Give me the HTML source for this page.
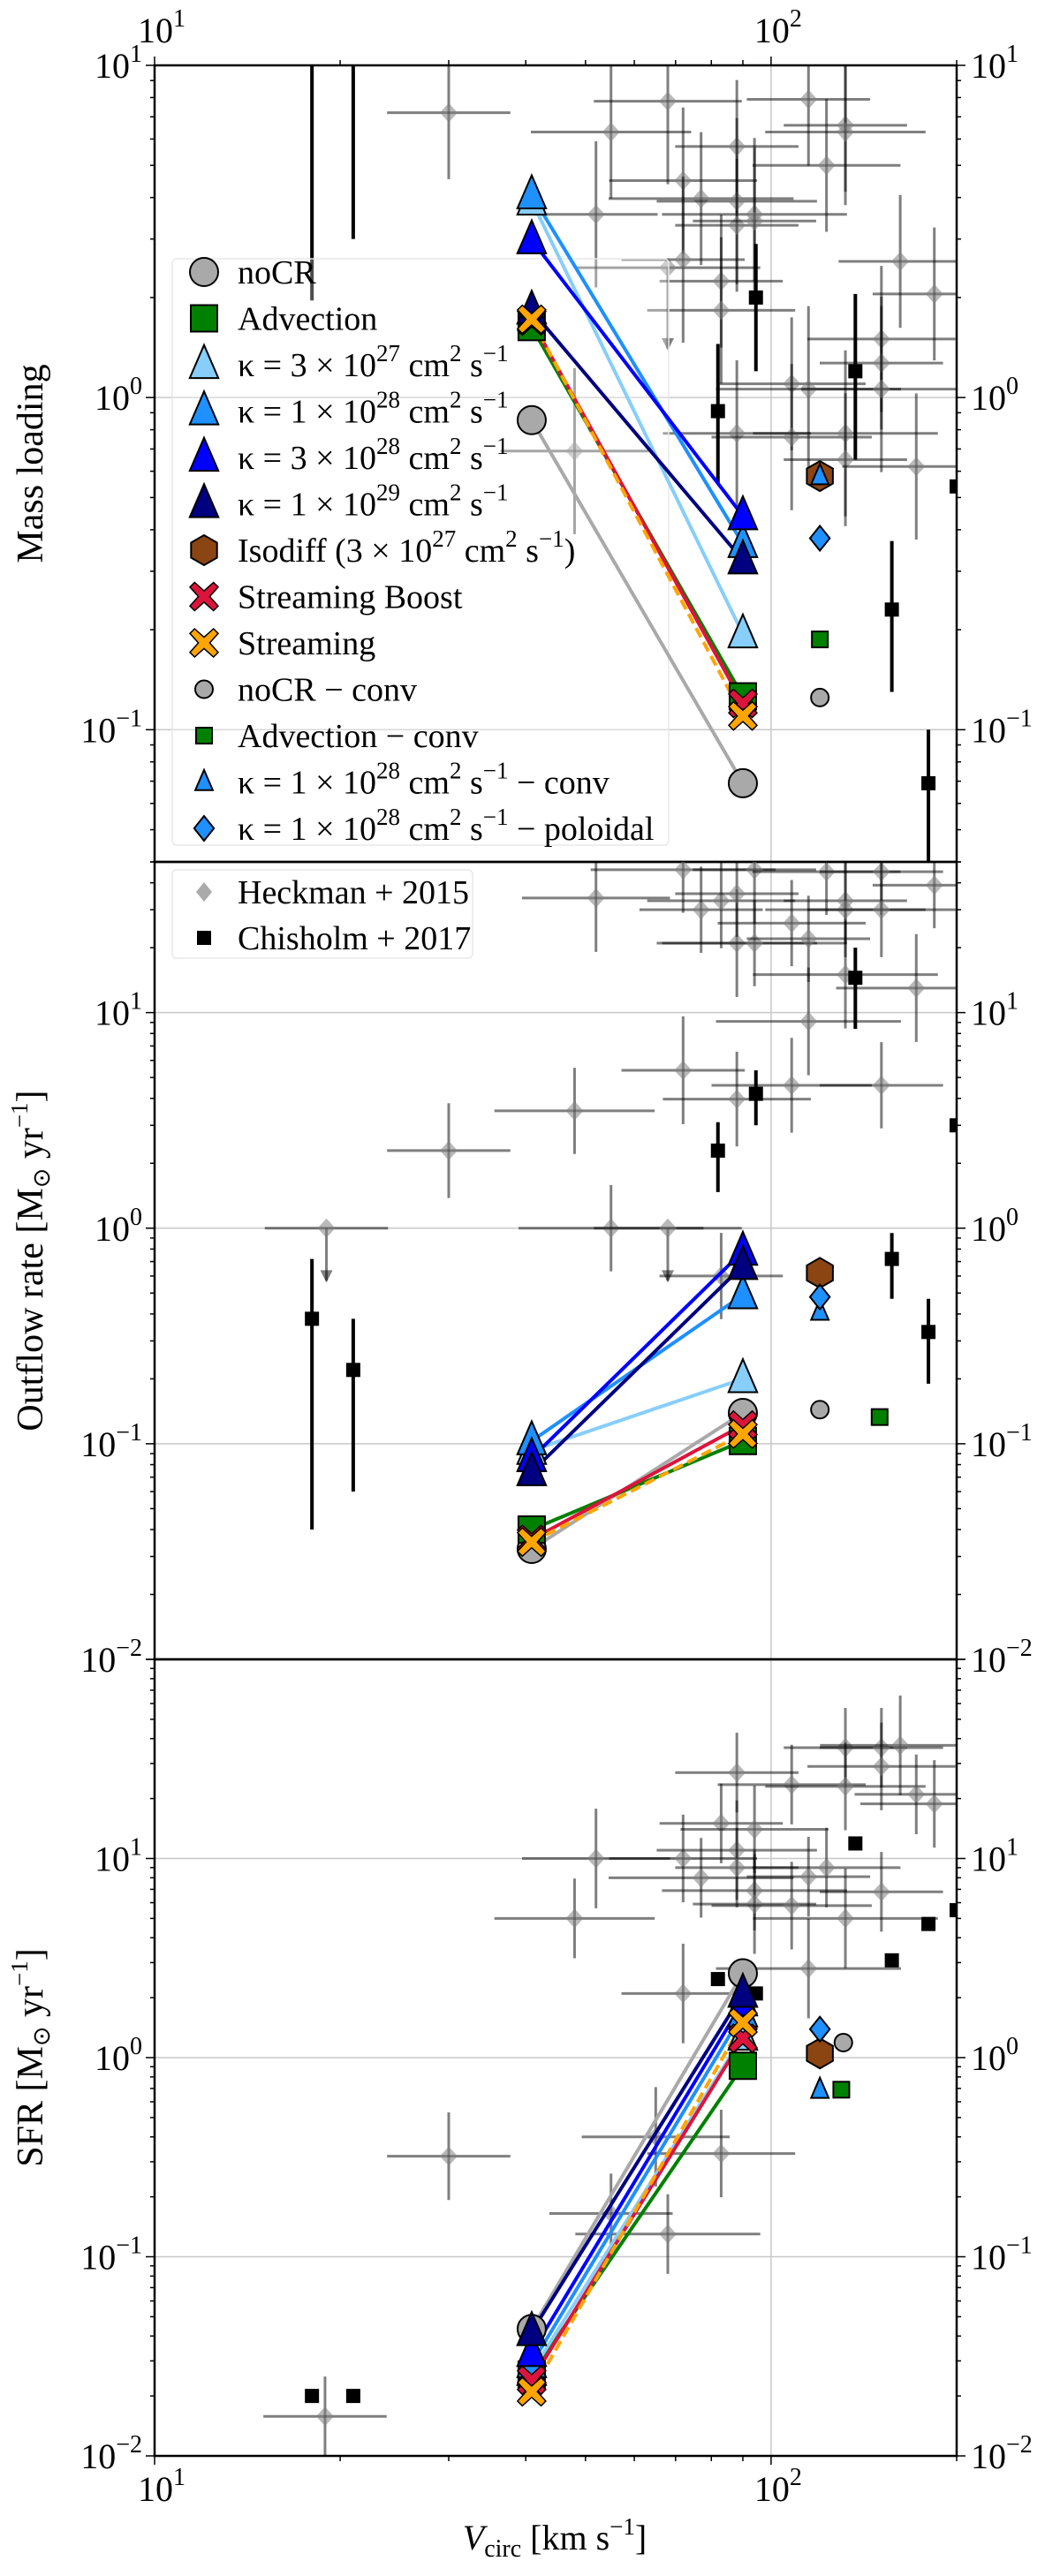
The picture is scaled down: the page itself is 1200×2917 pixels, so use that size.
<!DOCTYPE html>
<html><head><meta charset="utf-8"><style>
html,body{margin:0;padding:0;background:#fff}
svg{display:block;font-family:"Liberation Serif",serif}
</style></head><body>
<svg id="fig" width="1200" height="2917" viewBox="0 0 1200 2917" xmlns="http://www.w3.org/2000/svg"></svg>
<script>
// ---------- data ----------
const simX = [40.9, 90];
const noCR_ml = [0.855, 0.069], noCR_or = [0.0325, 0.139], noCR_sfr = [0.0434, 2.65];
const adv_ml = [1.63, 0.126], adv_or = [0.040, 0.103], adv_sfr = [0.0256, 0.91];
const k3e27_ml = [3.9, 0.194], k3e27_or = [0.093, 0.20], k3e27_sfr = [0.0265, 1.28];
const k1e28_ml = [4.07, 0.363], k1e28_or = [0.103, 0.49], k1e28_sfr = [0.029, 1.67];
const k3e28_ml = [2.98, 0.44], k3e28_or = [0.086, 0.78], k3e28_sfr = [0.033, 1.9];
const k1e29_ml = [1.83, 0.324], k1e29_or = [0.074, 0.67], k1e29_sfr = [0.042, 2.1];
const boost_ml = [1.7, 0.12], boost_or = [0.036, 0.122], boost_sfr = [0.024, 1.25];
const stream_ml = [1.72, 0.110], stream_or = [0.035, 0.111], stream_sfr = [0.021, 1.5];
const isoX = [120, 120, 120], iso_y = [0.58, 0.62, 1.05];
const noCRconvX = [120, 120, 131], noCRconv_y = [0.125, 0.144, 1.19];
const advconvX = [120, 150, 130], advconv_y = [0.187, 0.133, 0.69];
const kconvX = [120, 120, 120], kconv_y = [0.58, 0.41, 0.69];
const polX = [120, 120, 120], pol_y = [0.377, 0.48, 1.39];

const H1x = [30,52,55,68,68,72,72,77,83,83,88,88,88,88,94,94,108,108,115,115,123,132,132,132,132,151,151,151,162,172,184,48];
const H1y = [7.2,3.56,6.3,7.8,2.46,4.5,2.6,3.97,2.24,1.83,5.7,3.9,3.3,0.78,3.56,3.4,1.1,0.76,7.9,1.06,5.0,6.6,6.3,0.78,0.65,1.5,1.27,1.06,2.57,0.62,2.05,0.69];
const H1lim = [4];
const H2x = [19,30,48,52,55,68,72,72,77,83,83,88,88,88,94,94,108,108,115,115,123,132,132,132,151,151,151,172,184];
const H2y = [1.0,2.29,3.5,34,1.0,1.0,5.4,46,30,33,0.6,21,35.6,3.97,21,46,26,4.6,22,9.1,45,33,30,15,45,30,4.6,13,39];
const H2lim = [0,5];
const H3x = [18.9,30,48,52,68,72,72,77,83,83,88,88,88,94,94,94,108,108,115,115,123,132,132,132,151,151,151,162,172,184,55,65];
const H3y = [0.0158,0.32,5.0,10,0.13,10,2.1,8.0,15,0.33,27,11,9,14,6.9,5.9,23.5,5.8,8.1,2.8,9.0,36,23,5.0,36,29,6.8,37,21,18.8,0.165,0.4];
const H3lim = [];
const HxErr = [0.1,0.1,0.13,0.12,0.15,0.12,0.1,0.15,0.1,0.12,0.1,0.13,0.1,0.12,0.15,0.1,0.12,0.13,0.1,0.15,0.12,0.1,0.13,0.15,0.1,0.12,0.1,0.13,0.1,0.12,0.1,0.12];
const HyErr = [0.2,0.22,0.2,0.25,0.2,0.22,0.25,0.2,0.2,0.22,0.2,0.25,0.2,0.22,0.2,0.25,0.2,0.22,0.2,0.25,0.2,0.2,0.22,0.25,0.2,0.22,0.2,0.25,0.2,0.22,0.2,0.25];

const Cx = [18,21,82,94.5,137,157,180,200];
const C1y = [20,15,0.91,2.0,1.2,0.23,0.069,0.54];
const C1lo = [1.96,3.0,0.55,1.2,0.65,0.13,0.03,0.54];
const C1hi = [30,30,1.45,2.9,2.05,0.37,0.1,0.54];
const C2y = [0.38,0.22,2.29,4.2,14.5,0.72,0.33,3.0];
const C2lo = [0.04,0.06,1.47,3.0,8.4,0.47,0.19,3.0];
const C2hi = [0.72,0.38,3.1,5.4,20,0.95,0.47,3.0];
const C3y = [0.02,0.02,2.48,2.1,11.9,3.08,4.69,5.5];

const yTicks1 = [-1,0,1], yTicks2 = [-2,-1,0,1], yTicks3 = [-2,-1,0,1];
const xTicks = [1,2];

// ---------- layout ----------
const L=175,R=1083;
const panels=[{top:74,bot:976,lmin:Math.log10(0.04),lmax:1},{top:976,bot:1879,lmin:-2,lmax:Math.log10(50)},{top:1879,bot:2781,lmin:-2,lmax:2}];
const xs=v=>L+(Math.log10(v)-1)*(R-L)/(Math.log10(200)-1);
const ys=(p,v)=>{const P=panels[p];return P.bot-(Math.log10(v)-P.lmin)*(P.bot-P.top)/(P.lmax-P.lmin);};
const svg=document.getElementById('fig');
const NS='http://www.w3.org/2000/svg';
function mk(tag,attrs,parent){const e=document.createElementNS(NS,tag);for(const k in attrs)e.setAttribute(k,attrs[k]);(parent||svg).appendChild(e);return e;}

const defs=mk('defs',{});
panels.forEach((P,i)=>{const c=mk('clipPath',{id:'clip'+i},defs);mk('rect',{x:L,y:P.top,width:R-L,height:P.bot-P.top},c);});

function markerShape(g,type,cx,cy,s,fill,name){
  let e;
  if(type==='o'){e=mk('circle',{cx:cx,cy:cy,r:s/2,fill:fill,stroke:'#000','stroke-width':2},g);}
  else if(type==='s'){e=mk('rect',{x:cx-s/2,y:cy-s/2,width:s,height:s,fill:fill,stroke:'#000','stroke-width':2},g);}
  else if(type==='^'){const h=s*1.0,w=s*0.9;e=mk('polygon',{points:`${cx},${cy-h*0.62} ${cx+w/2},${cy+h*0.42} ${cx-w/2},${cy+h*0.42}`,fill:fill,stroke:'#000','stroke-width':2},g);}
  else if(type==='h'){const r=s/2;let pts=[];for(let k=0;k<6;k++){const a=Math.PI/2+k*Math.PI/3;pts.push((cx+r*Math.cos(a)).toFixed(1)+','+(cy-r*Math.sin(a)).toFixed(1));}e=mk('polygon',{points:pts.join(' '),fill:fill,stroke:'#000','stroke-width':2},g);}
  else if(type==='D'){const r=s/2;e=mk('polygon',{points:`${cx},${cy-r} ${cx+r*0.8},${cy} ${cx},${cy+r} ${cx-r*0.8},${cy}`,fill:fill,stroke:'#000','stroke-width':2},g);}
  else if(type==='X'){const a=s/2,b=s/6;const p=[[-a+b,-a],[0,-b*1.2],[a-b,-a],[a,-a+b],[b*1.2,0],[a,a-b],[a-b,a],[0,b*1.2],[-a+b,a],[-a,a-b],[-b*1.2,0],[-a,-a+b]];
    e=mk('polygon',{points:p.map(q=>(cx+q[0]).toFixed(1)+','+(cy+q[1]).toFixed(1)).join(' '),fill:fill,stroke:'#000','stroke-width':1.5},g);}
  
  
  return e;
}

// ---------- grid, axes ----------
panels.forEach((P,i)=>{
  const g=mk('g',{});
  
  
  const yt=[yTicks1,yTicks2,yTicks3][i];
  yt.forEach(t=>{const y=ys(i,Math.pow(10,t));mk('line',{x1:L,x2:R,y1:y,y2:y,stroke:'#c8c8c8','stroke-width':1.5},g);});
  mk('line',{x1:xs(100),x2:xs(100),y1:P.top,y2:P.bot,stroke:'#c8c8c8','stroke-width':1.5},g);
  for(let d=Math.floor(P.lmin);d<=Math.ceil(P.lmax);d++){for(let m=1;m<10;m++){const v=m*Math.pow(10,d);const lv=Math.log10(v);if(lv<P.lmin-1e-6||lv>P.lmax+1e-6)continue;const y=ys(i,v);const len=(m===1)?10:5;
    mk('line',{x1:L-len,x2:L,y1:y,y2:y,stroke:'#000','stroke-width':1.5},g);mk('line',{x1:R,x2:R+len,y1:y,y2:y,stroke:'#000','stroke-width':1.5},g);}}
  yt.forEach(t=>{const y=ys(i,Math.pow(10,t));
    const lt=mk('text',{x:L-14,y:y+14,'font-size':40,'text-anchor':'end'},g);
    lt.innerHTML='10<tspan font-size="28" dy="-18">'+(t<0?'\u2212'+(-t):t)+'</tspan>';
    const rt=mk('text',{x:R+16,y:y+14,'font-size':40,'text-anchor':'start'},g);
    rt.innerHTML='10<tspan font-size="28" dy="-18">'+(t<0?'\u2212'+(-t):t)+'</tspan>';
  });
  mk('rect',{x:L,y:P.top,width:R-L,height:P.bot-P.top,fill:'none',stroke:'#000','stroke-width':2.5},g);
});
(function(){
  const g=mk('g',{});
  for(let d=1;d<=2;d++)for(let m=1;m<10;m++){const v=m*Math.pow(10,d);if(v>200)continue;const x=xs(v);const len=m===1?10:6;
    mk('line',{x1:x,x2:x,y1:panels[0].top-len,y2:panels[0].top,stroke:'#000','stroke-width':1.5},g);
    mk('line',{x1:x,x2:x,y1:panels[2].bot,y2:panels[2].bot+len,stroke:'#000','stroke-width':1.5},g);}
  xTicks.forEach(t=>{const x=xs(Math.pow(10,t));
    const a=mk('text',{x:x+8,y:2832,'font-size':40,'text-anchor':'middle'},g);
    a.innerHTML='10<tspan font-size="28" dy="-18">'+t+'</tspan>';
    const b=mk('text',{x:x+8,y:48,'font-size':40,'text-anchor':'middle'},g);
    b.innerHTML='10<tspan font-size="28" dy="-18">'+t+'</tspan>';
  });
  const xl=mk('text',{x:628,y:2887,'font-size':40,'text-anchor':'middle'},g);
  xl.innerHTML='<tspan font-style="italic">V</tspan><tspan font-size="28" dy="8">circ</tspan><tspan dy="-8"> [km s</tspan><tspan font-size="27" dy="-17">\u22121</tspan><tspan dy="17">]</tspan>';
})();
[['Mass loading','y-axis-title-mass-loading'],['Outflow rate [M<tspan font-size="27" dy="8">\u2299</tspan><tspan dy="-8"> yr</tspan><tspan font-size="27" dy="-17">\u22121</tspan><tspan dy="17">]</tspan>','y-axis-title-outflow'],['SFR [M<tspan font-size="27" dy="8">\u2299</tspan><tspan dy="-8"> yr</tspan><tspan font-size="27" dy="-17">\u22121</tspan><tspan dy="17">]</tspan>','y-axis-title-sfr']].forEach((t,i)=>{
  const P=panels[i];const cy=(P.top+P.bot)/2;
  const e=mk('text',{x:0,y:0,'font-size':42,'text-anchor':'middle',transform:`translate(48,${cy}) rotate(-90)`});
  e.innerHTML=t[0];
});

// ---------- observations ----------
function heckman(p,X,Y,lims){
  const g=mk('g',{'clip-path':`url(#clip${p})`});
  X.forEach((xv,k)=>{const cx=xs(xv),cy=ys(p,Y[k]);const dx=HxErr[k%HxErr.length],dy=HyErr[k%HyErr.length];
    const isLim=lims.indexOf(k)>=0;
    mk('line',{x1:xs(xv*Math.pow(10,-dx)),x2:xs(xv*Math.pow(10,dx)),y1:cy,y2:cy,stroke:'rgba(0,0,0,0.5)','stroke-width':3},g);
    if(isLim){const y2=ys(p,Y[k]*0.57);mk('line',{x1:cx,x2:cx,y1:cy,y2:y2,stroke:'rgba(0,0,0,0.5)','stroke-width':3},g);
      mk('polygon',{points:`${cx-7},${y2-12} ${cx+7},${y2-12} ${cx},${y2+2}`,fill:'rgba(0,0,0,0.5)'},g);}
    else mk('line',{x1:cx,x2:cx,y1:ys(p,Y[k]*Math.pow(10,dy)),y2:ys(p,Y[k]*Math.pow(10,-dy)),stroke:'rgba(0,0,0,0.5)','stroke-width':3},g);
    const d=mk('polygon',{points:`${cx},${cy-11} ${cx+10},${cy} ${cx},${cy+11} ${cx-10},${cy}`,fill:'rgba(128,128,128,0.55)'},g);
    
  });
}
function chisholm(p,Y,lo,hi){
  const g=mk('g',{'clip-path':`url(#clip${p})`});
  Cx.forEach((xv,k)=>{const cx=xs(xv),cy=ys(p,Y[k]);
    if(lo&&lo[k]!==hi[k])mk('line',{x1:cx,x2:cx,y1:ys(p,hi[k]),y2:ys(p,lo[k]),stroke:'#000','stroke-width':4},g);
    const r=mk('rect',{x:cx-8,y:cy-8,width:16,height:16,fill:'#000'},g);
    
  });
}
heckman(0,H1x,H1y,H1lim);heckman(1,H2x,H2y,H2lim);heckman(2,H3x,H3y,H3lim);
chisholm(0,C1y,C1lo,C1hi);chisholm(1,C2y,C2lo,C2hi);chisholm(2,C3y,null,null);

// ---------- legends (drawn beneath simulation marks) ----------
(function(){
  const g=mk('g',{});
  mk('rect',{x:195,y:293,width:562,height:664,rx:5,fill:'rgba(255,255,255,0.3)',stroke:'#e8e8e8','stroke-width':1.5},g);
  const kap=(a,b,extra)=>'\u03ba = '+a+' \u00d7 10<tspan font-size="27" dy="-17">'+b+'</tspan><tspan dy="17"> cm</tspan><tspan font-size="27" dy="-17">2</tspan><tspan dy="17"> s</tspan><tspan font-size="27" dy="-17">\u22121</tspan><tspan dy="17">'+(extra||'')+'</tspan>';
  const items=[
   ['o','#a9a9a9',32,'noCR','nocr'],['s','#008000',30,'Advection','advection'],
   ['^','#87cefa',36,kap(3,27),'kappa-3e27'],['^','#1e90ff',36,kap(1,28),'kappa-1e28'],
   ['^','#0000ff',36,kap(3,28),'kappa-3e28'],['^','#000080',36,kap(1,29),'kappa-1e29'],
   ['h','#8b4513',34,'Isodiff (3 \u00d7 10<tspan font-size="27" dy="-17">27</tspan><tspan dy="17"> cm</tspan><tspan font-size="27" dy="-17">2</tspan><tspan dy="17"> s</tspan><tspan font-size="27" dy="-17">\u22121</tspan><tspan dy="17">)</tspan>','isodiff'],
   ['X','#dc143c',32,'Streaming Boost','streaming-boost'],['X','#ffa500',32,'Streaming','streaming'],
   ['o','#a9a9a9',20,'noCR \u2212 conv','nocr-conv'],['s','#008000',18,'Advection \u2212 conv','advection-conv'],
   ['^','#1e90ff',22,kap(1,28,' \u2212 conv'),'kappa-conv'],['D','#1e90ff',28,kap(1,28,' \u2212 poloidal'),'poloidal']
  ];
  items.forEach((it,k)=>{const y=308+k*52.5;
    const eg=mk('g',{},g);
    markerShape(eg,it[0],231,y,it[2],it[1],'legend-marker');
    const t=mk('text',{x:269,y:y+13,'font-size':38},eg);t.innerHTML=it[3];
  });
  const g2=mk('g',{});
  mk('rect',{x:195,y:985,width:340,height:100,rx:5,fill:'rgba(255,255,255,0.8)',stroke:'#e8e8e8','stroke-width':1.5},g2);
  const e1=mk('g',{},g2);
  mk('polygon',{points:'231,999 240,1010 231,1021 222,1010',fill:'#aaa'},e1);
  mk('text',{x:269,y:1023,'font-size':38},e1).textContent='Heckman + 2015';
  const e2=mk('g',{},g2);
  mk('rect',{x:223,y:1054,width:16,height:16,fill:'#000'},e2);
  mk('text',{x:269,y:1075,'font-size':38},e2).textContent='Chisholm + 2017';
})();

// ---------- simulations ----------
const models=[
 {n:'nocr',c:'#a9a9a9',m:'o',s:32,d:[noCR_ml,noCR_or,noCR_sfr]},
 {n:'advection',c:'#008000',m:'s',s:30,d:[adv_ml,adv_or,adv_sfr]},
 {n:'kappa-3e27',c:'#87cefa',m:'^',s:36,d:[k3e27_ml,k3e27_or,k3e27_sfr]},
 {n:'kappa-1e28',c:'#1e90ff',m:'^',s:36,d:[k1e28_ml,k1e28_or,k1e28_sfr]},
 {n:'kappa-3e28',c:'#0000ff',m:'^',s:36,d:[k3e28_ml,k3e28_or,k3e28_sfr]},
 {n:'kappa-1e29',c:'#000080',m:'^',s:36,d:[k1e29_ml,k1e29_or,k1e29_sfr]},
 {n:'streaming-boost',c:'#dc143c',m:'X',s:32,d:[boost_ml,boost_or,boost_sfr]},
 {n:'streaming',c:'#ffa500',m:'X',s:32,d:[stream_ml,stream_or,stream_sfr],dash:true}
];
for(let p=0;p<3;p++){
  const g=mk('g',{'clip-path':`url(#clip${p})`});
  models.forEach(M=>{const y=M.d[p];
    const ln=mk('line',{x1:xs(simX[0]),y1:ys(p,y[0]),x2:xs(simX[1]),y2:ys(p,y[1]),stroke:M.c,'stroke-width':4,'stroke-dasharray':M.dash?'12,6':'none'},g);
    });
  models.forEach(M=>{const y=M.d[p];simX.forEach((xv,k)=>markerShape(g,M.m,xs(xv),ys(p,y[k]),M.s,M.c,M.n+'-marker'));});
  markerShape(g,'h',xs(isoX[p]),ys(p,iso_y[p]),34,'#8b4513','isodiff-marker');
  markerShape(g,'o',xs(noCRconvX[p]),ys(p,noCRconv_y[p]),20,'#a9a9a9','nocr-conv-marker');
  markerShape(g,'s',xs(advconvX[p]),ys(p,advconv_y[p]),18,'#008000','advection-conv-marker');
  markerShape(g,'^',xs(kconvX[p]),ys(p,kconv_y[p]),22,'#1e90ff','kappa-conv-marker');
  markerShape(g,'D',xs(polX[p]),ys(p,pol_y[p]),28,'#1e90ff','poloidal-marker');
}
</script>
</body></html>
